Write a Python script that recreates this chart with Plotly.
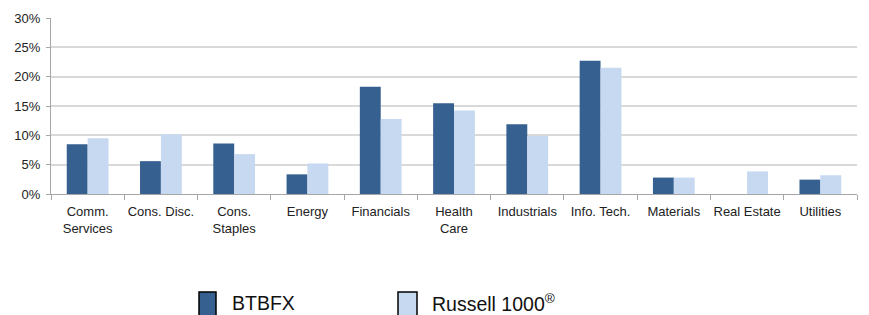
import plotly.graph_objects as go

categories = ["Comm.<br>Services", "Cons. Disc.", "Cons.<br>Staples", "Energy", "Financials",
              "Health<br>Care", "Industrials", "Info. Tech.", "Materials", "Real Estate", "Utilities"]
btbfx = [8.5, 5.6, 8.6, 3.35, 18.3, 15.45, 11.9, 22.7, 2.8, 0.0, 2.45]
russell = [9.5, 10.2, 6.8, 5.2, 12.8, 14.25, 9.9, 21.5, 2.8, 3.85, 3.2]
series_names = ["BTBFX", "Russell 1000<sup>®</sup>"]
y_ticks = [0, 5, 10, 15, 20, 25, 30]
y_tick_labels = ["0%", "5%", "10%", "15%", "20%", "25%", "30%"]

dark = "#36608F"
light = "#C6D9F1"

fig = go.Figure()
fig.add_trace(go.Bar(x=categories, y=btbfx, name=series_names[0], marker_color=dark,
                     marker_line_width=0, showlegend=False))
fig.add_trace(go.Bar(x=categories, y=russell, name=series_names[1], marker_color=light,
                     marker_line_width=0, showlegend=False))

# page body has an 8px default margin: compensate
OFF = 8
FW, FH = 869 - OFF, 315 - OFF
L, R, T, B = 51 - OFF, 857 - OFF, 18 - OFF, 194 - OFF
W = R - L
H = B - T

def px(xp):
    return (xp - OFF - L) / W

def py(yp):
    return (B - (yp - OFF)) / H

shapes = []
annotations = []
for (x0, x1, tx, col, name) in [(199, 216, 230, dark, series_names[0]),
                                 (398, 417, 430, light, series_names[1])]:
    shapes.append(dict(type="rect", xref="paper", yref="paper",
                       x0=px(x0), x1=px(x1), y0=py(292), y1=py(318),
                       fillcolor=col, line=dict(color="black", width=1.5)))
    annotations.append(dict(text=name, xref="paper", yref="paper", x=px(tx), y=py(303),
                            xanchor="left", yanchor="middle", showarrow=False,
                            font=dict(size=19.5, color="#111", family="Liberation Sans, Arial")))

fig.update_layout(
    width=FW, height=FH,
    margin=dict(l=L, r=FW - R, t=T, b=FH - B),
    plot_bgcolor="white", paper_bgcolor="white",
    barmode="group", bargap=0.43, bargroupgap=0,
    font=dict(family="Liberation Sans, Arial", size=13, color="#222"),
    shapes=shapes, annotations=annotations,
    xaxis=dict(showline=True, linecolor="#a6a6a6", linewidth=1.2,
               ticks="outside", tickson="boundaries", ticklen=5, tickcolor="#a6a6a6",
               showgrid=False, tickangle=0, automargin=False, ticklabelstandoff=5,
               tickfont=dict(size=13, color="#222")),
    yaxis=dict(range=[0, 30], tickvals=y_ticks, ticktext=y_tick_labels,
               showline=True, linecolor="#a6a6a6", linewidth=1.2,
               ticks="outside", ticklen=4, tickcolor="#a6a6a6", ticklabelstandoff=3,
               showgrid=True, gridcolor="#d9d9d9", gridwidth=1.5, automargin=False,
               zeroline=False, tickfont=dict(size=13, color="#222")),
)

fig.write_html("out.html")
